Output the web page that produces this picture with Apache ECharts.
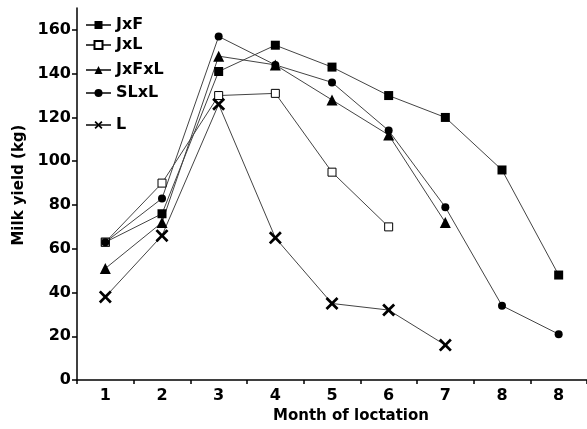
<!DOCTYPE html>
<html>
<head>
<meta charset="utf-8">
<script src="https://cdn.jsdelivr.net/npm/echarts@6/dist/echarts.min.js"></script>
<style>html,body{margin:0;padding:0;background:#fff;}#c{width:587px;height:429px;}</style>
</head>
<body>
<div id="c"></div>
<script>
const monthLabels = ['1','2','3','4','5','6','7','8','8'];
const yTicks = [0,20,40,60,80,100,120,140,160];
const JxF   = [63, 76, 141, 153, 143, 130, 120, 96, 48];
const JxL   = [63, 90, 130, 131, 95, 70];
const JxFxL = [51, 72, 148, 144, 128, 112, 72];
const SLxL  = [63, 83, 157, 144, 136, 114, 79, 34, 21];
const L     = [38, 66, 126, 65, 35, 32, 16];

const FONT = 'DejaVu Sans';
const xPath = 'path://M0,1.5 L1.5,0 L5,3.5 L8.5,0 L10,1.5 L6.5,5 L10,8.5 L8.5,10 L5,6.5 L1.5,10 L0,8.5 L3.5,5 Z';

function mk(name, data, symbol, size, fill) {
  return {
    name, type: 'line', data, symbol, symbolSize: size,
    showAllSymbol: true,
    lineStyle: { color: '#444', width: 1 },
    itemStyle: { color: fill, borderColor: '#000', borderWidth: fill === '#fff' ? 1 : 0 },
    emphasis: { disabled: true },
    animation: false
  };
}
const series = [
  mk('JxF', JxF, 'rect', 9, '#000'),
  mk('JxL', JxL, 'rect', 8, '#fff'),
  mk('JxFxL', JxFxL, 'triangle', 11, '#000'),
  mk('SLxL', SLxL, 'circle', 8, '#000'),
  mk('L', L, xPath, 13, '#000')
];
const legendTops = [17, 37, 62, 85, 117];
const legends = series.map((s, i) => ({
  data: [s.name], left: 85, top: legendTops[i], padding: 0,
  itemWidth: 25, itemHeight: 10, selectedMode: false,
  textStyle: { fontFamily: FONT, fontWeight: 'bold', fontSize: 16, color: '#000', lineHeight: 16 }
}));

const chart = echarts.init(document.getElementById('c'), null, { renderer: 'canvas' });
chart.setOption({
  backgroundColor: '#fff',
  animation: false,
  legend: legends,
  grid: { left: 77, top: 8, width: 515, bottom: 46, containLabel: false },
  xAxis: {
    type: 'category', data: monthLabels, boundaryGap: true,
    name: 'Month of loctation', nameLocation: 'middle', nameGap: 27,
    nameTextStyle: { fontFamily: FONT, fontWeight: 'bold', fontSize: 15, color: '#000', padding: [0,0,0,38] },
    axisLine: { lineStyle: { color: '#000', width: 1.5 } },
    axisTick: { show: true, length: 4, inside: false, lineStyle: { color: '#000', width: 1.5 } },
    axisLabel: { fontFamily: FONT, fontWeight: 'bold', fontSize: 16, color: '#000', margin: 8, interval: 0 },
    splitLine: { show: false }
  },
  yAxis: {
    type: 'value', min: 0, max: 170, interval: 20,
    name: 'Milk yield (kg)', nameLocation: 'middle', nameGap: 50, nameRotate: 90,
    nameTextStyle: { fontFamily: FONT, fontWeight: 'bold', fontSize: 15, color: '#000', padding: [0,0,0,18] },
    axisLine: { show: true, lineStyle: { color: '#000', width: 1.5 } },
    axisTick: { show: true, length: 5, customValues: yTicks, lineStyle: { color: '#000', width: 1.5 } },
    axisLabel: { fontFamily: FONT, fontWeight: 'bold', fontSize: 16, color: '#000', margin: 6, customValues: yTicks },
    splitLine: { show: false }
  },
  series
});
</script>
</body>
</html>
